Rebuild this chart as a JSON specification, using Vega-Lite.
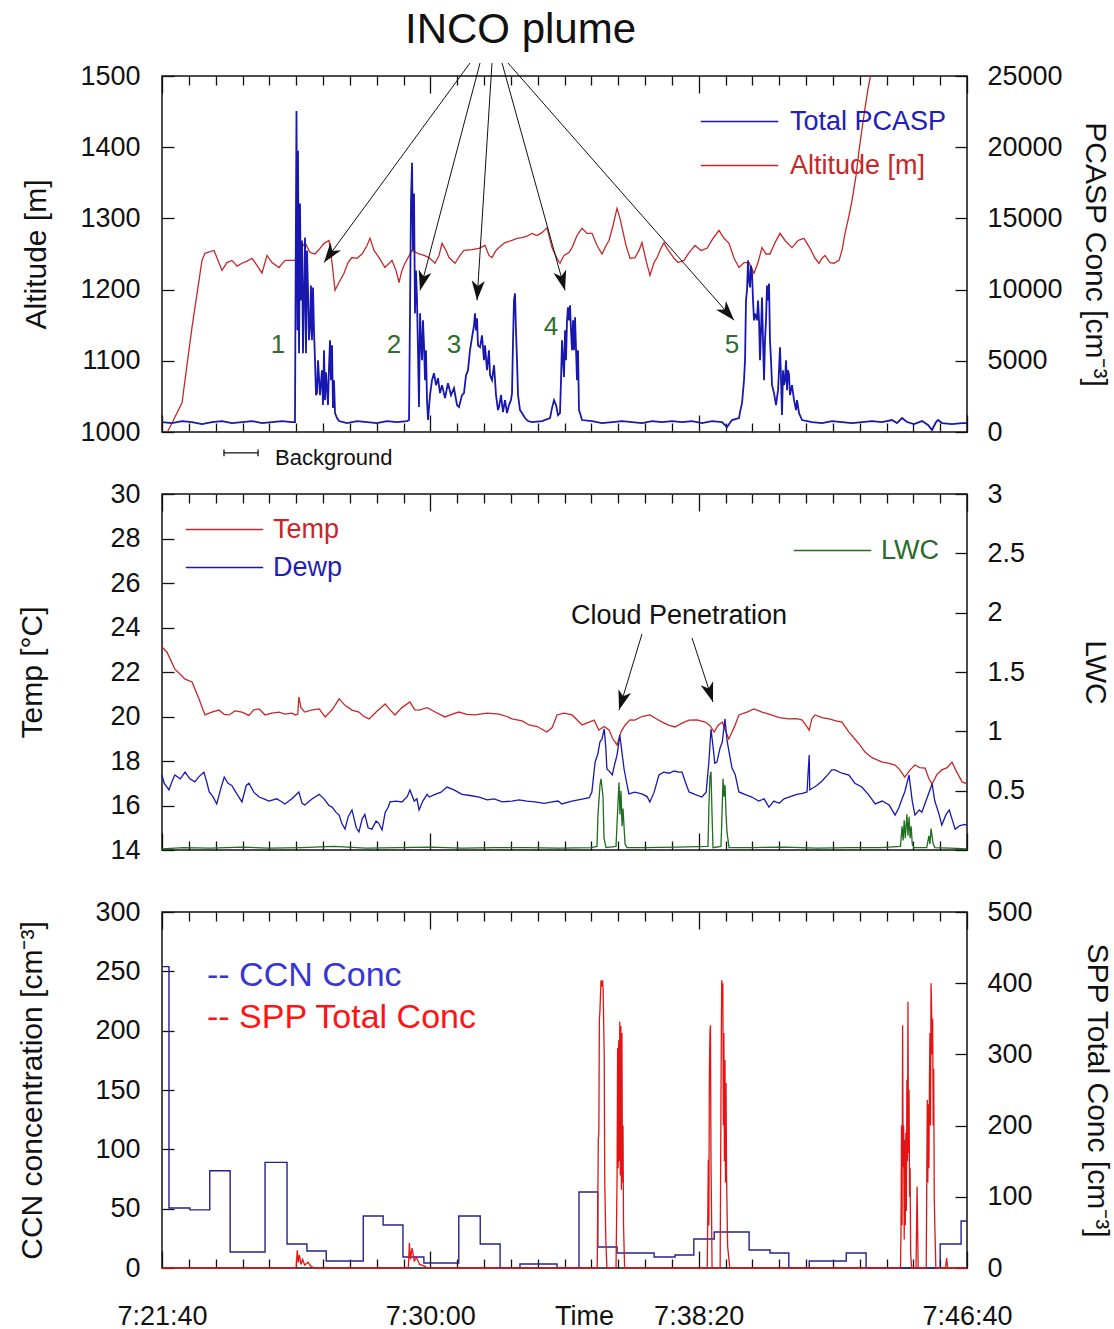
{
"$schema":"https://vega.github.io/schema/vega-lite/v6.json",
"background":"white",
"padding":{"left":16,"top":8,"right":5,"bottom":0},
"config":{
 "font":"Liberation Sans",
 "view":{"stroke":"#111","strokeWidth":1.5},
 "axis":{"labelFont":"Liberation Sans","labelFontSize":27,"labelColor":"#111","titleFont":"Liberation Sans","titleFontSize":30,"titleFontWeight":"normal","titleColor":"#111","domain":false,"grid":false,"tickColor":"#111","tickWidth":1.3},
 "legend":{"labelFont":"Liberation Sans","labelLimit":0},
 "title":{"font":"Liberation Sans","fontWeight":"normal","color":"#111"}
},
"datasets":{
 "pcasp":[{"t":0,"v":700},{"t":18.6,"v":630},{"t":37.3,"v":770},{"t":55.9,"v":700},{"t":74.5,"v":560},{"t":93.2,"v":700},{"t":111.8,"v":770},{"t":130.4,"v":630},{"t":149.1,"v":700},{"t":167.7,"v":770},{"t":186.3,"v":630},{"t":205,"v":700},{"t":223.6,"v":770},{"t":242.2,"v":700},{"t":247.8,"v":700},{"t":248.8,"v":9240},{"t":250.6,"v":22550},{"t":252.5,"v":7140},{"t":253.4,"v":19750},{"t":255.3,"v":5530},{"t":257.1,"v":16040},{"t":259,"v":9240},{"t":260.9,"v":13450},{"t":262.7,"v":5530},{"t":266.5,"v":13650},{"t":268.3,"v":5530},{"t":270.2,"v":12750},{"t":272.1,"v":9940},{"t":273.9,"v":6440},{"t":275.8,"v":7350},{"t":277.6,"v":10290},{"t":279.5,"v":6440},{"t":281.4,"v":10150},{"t":283.2,"v":7140},{"t":285.1,"v":5040},{"t":287,"v":2590},{"t":288.8,"v":2730},{"t":290.7,"v":5040},{"t":294.4,"v":2590},{"t":298.1,"v":4340},{"t":300,"v":1890},{"t":301.9,"v":5740},{"t":303.7,"v":2240},{"t":305.6,"v":4200},{"t":309.3,"v":1890},{"t":311.2,"v":4550},{"t":313.1,"v":6440},{"t":314.9,"v":3640},{"t":316.8,"v":6090},{"t":318.6,"v":1680},{"t":320.5,"v":3640},{"t":322.4,"v":1330},{"t":326.1,"v":980},{"t":329.8,"v":770},{"t":344.7,"v":630},{"t":363.4,"v":770},{"t":382,"v":700},{"t":400.6,"v":630},{"t":419.3,"v":770},{"t":437.9,"v":700},{"t":456.5,"v":770},{"t":460.3,"v":840},{"t":462.1,"v":8330},{"t":464,"v":16250},{"t":465.9,"v":18910},{"t":467.7,"v":12750},{"t":469.6,"v":16740},{"t":471.4,"v":8330},{"t":473.3,"v":11340},{"t":475.2,"v":9240},{"t":477,"v":5740},{"t":478.9,"v":1750},{"t":480.8,"v":8330},{"t":482.6,"v":6440},{"t":484.5,"v":5040},{"t":486.3,"v":7840},{"t":488.2,"v":6090},{"t":490.1,"v":3640},{"t":491.9,"v":5740},{"t":493.8,"v":2240},{"t":495.7,"v":840},{"t":499.4,"v":2590},{"t":503.1,"v":3640},{"t":506.8,"v":4130},{"t":510.6,"v":3290},{"t":514.3,"v":3780},{"t":518,"v":2730},{"t":521.8,"v":3290},{"t":527.3,"v":2380},{"t":532.9,"v":3430},{"t":538.5,"v":2590},{"t":544.1,"v":3080},{"t":549.7,"v":1890},{"t":553.4,"v":1750},{"t":559,"v":2590},{"t":562.7,"v":2730},{"t":566.5,"v":3990},{"t":570.2,"v":4340},{"t":573.9,"v":5740},{"t":577.7,"v":6650},{"t":581.4,"v":7490},{"t":583.2,"v":8330},{"t":585.1,"v":7140},{"t":587,"v":7980},{"t":588.8,"v":6090},{"t":592.6,"v":5950},{"t":596.3,"v":6790},{"t":600,"v":5040},{"t":601.9,"v":6090},{"t":605.6,"v":4340},{"t":609.3,"v":5740},{"t":611.2,"v":3990},{"t":614.9,"v":3640},{"t":618.7,"v":4690},{"t":622.4,"v":2590},{"t":626.1,"v":1540},{"t":628,"v":1750},{"t":631.7,"v":2590},{"t":635.4,"v":1400},{"t":639.1,"v":2240},{"t":642.9,"v":1330},{"t":646.6,"v":1890},{"t":650.3,"v":2240},{"t":652.2,"v":2730},{"t":654.1,"v":6440},{"t":655.9,"v":9240},{"t":657.8,"v":9730},{"t":659.6,"v":7140},{"t":661.5,"v":5040},{"t":663.4,"v":2590},{"t":667.1,"v":1540},{"t":670.8,"v":1330},{"t":676.4,"v":980},{"t":682,"v":770},{"t":689.5,"v":700},{"t":708.1,"v":770},{"t":723,"v":980},{"t":726.7,"v":1680},{"t":730.5,"v":2240},{"t":734.2,"v":1890},{"t":737.9,"v":1190},{"t":741.6,"v":1330},{"t":743.5,"v":3640},{"t":745.4,"v":6440},{"t":747.2,"v":5040},{"t":749.1,"v":3850},{"t":751,"v":7140},{"t":752.8,"v":5040},{"t":754.7,"v":7840},{"t":756.5,"v":8750},{"t":758.4,"v":7840},{"t":760.3,"v":8890},{"t":762.1,"v":7140},{"t":764,"v":5740},{"t":765.9,"v":7840},{"t":767.7,"v":5740},{"t":769.6,"v":8050},{"t":773.3,"v":3640},{"t":775.2,"v":5740},{"t":777,"v":1540},{"t":778.9,"v":1330},{"t":782.6,"v":840},{"t":801.3,"v":770},{"t":819.9,"v":630},{"t":838.5,"v":700},{"t":857.2,"v":770},{"t":875.8,"v":700},{"t":894.4,"v":630},{"t":913.1,"v":770},{"t":931.7,"v":700},{"t":950.3,"v":770},{"t":969,"v":700},{"t":987.6,"v":770},{"t":1006.2,"v":630},{"t":1024.9,"v":770},{"t":1043.5,"v":700},{"t":1052.8,"v":350},{"t":1062.1,"v":840},{"t":1075.2,"v":980},{"t":1077,"v":1400},{"t":1080.8,"v":2030},{"t":1084.5,"v":3640},{"t":1086.4,"v":5040},{"t":1088.2,"v":9240},{"t":1090.1,"v":9940},{"t":1092,"v":12050},{"t":1093.8,"v":10640},{"t":1095.7,"v":10150},{"t":1097.5,"v":11690},{"t":1099.4,"v":11130},{"t":1101.3,"v":9240},{"t":1103.1,"v":7840},{"t":1105,"v":8330},{"t":1108.7,"v":7840},{"t":1110.6,"v":9240},{"t":1112.5,"v":7840},{"t":1114.3,"v":5040},{"t":1116.2,"v":7140},{"t":1118,"v":9450},{"t":1119.9,"v":6440},{"t":1121.8,"v":3640},{"t":1123.6,"v":6440},{"t":1125.5,"v":7840},{"t":1127.4,"v":10290},{"t":1129.2,"v":9240},{"t":1131.1,"v":10430},{"t":1132.9,"v":6440},{"t":1134.8,"v":5040},{"t":1136.7,"v":3290},{"t":1140.4,"v":2730},{"t":1144.1,"v":1890},{"t":1147.9,"v":2940},{"t":1149.7,"v":4340},{"t":1151.6,"v":5950},{"t":1153.5,"v":3640},{"t":1155.3,"v":1190},{"t":1157.2,"v":4340},{"t":1159,"v":3290},{"t":1160.9,"v":3640},{"t":1162.8,"v":5040},{"t":1164.6,"v":2940},{"t":1166.5,"v":4340},{"t":1168.4,"v":3990},{"t":1170.2,"v":2590},{"t":1173.9,"v":3290},{"t":1177.7,"v":2240},{"t":1181.4,"v":1540},{"t":1183.3,"v":2240},{"t":1187,"v":1330},{"t":1192.6,"v":840},{"t":1211.2,"v":700},{"t":1229.8,"v":630},{"t":1248.5,"v":770},{"t":1267.1,"v":700},{"t":1285.7,"v":630},{"t":1304.4,"v":700},{"t":1323,"v":770},{"t":1341.6,"v":700},{"t":1360.3,"v":840},{"t":1369.6,"v":630},{"t":1378.9,"v":980},{"t":1388.2,"v":700},{"t":1401.3,"v":560},{"t":1416.2,"v":770},{"t":1427.4,"v":490},{"t":1434.8,"v":140},{"t":1442.3,"v":700},{"t":1446,"v":840},{"t":1453.5,"v":630},{"t":1472.1,"v":560},{"t":1490.7,"v":630},{"t":1500,"v":630}],
 "alt":[{"t":10,"v":1000},{"t":14.9,"v":1007},{"t":37.3,"v":1041},{"t":55.9,"v":1147},{"t":74.5,"v":1241},{"t":80.1,"v":1251},{"t":96.9,"v":1255},{"t":111.8,"v":1227},{"t":121.1,"v":1238},{"t":130.4,"v":1241},{"t":139.8,"v":1233},{"t":149.1,"v":1237},{"t":158.4,"v":1240},{"t":167.7,"v":1244},{"t":177,"v":1234},{"t":186.3,"v":1223},{"t":195.7,"v":1248},{"t":205,"v":1238},{"t":218,"v":1231},{"t":229.2,"v":1241},{"t":247.8,"v":1241},{"t":257.1,"v":1255},{"t":266.5,"v":1266},{"t":275.8,"v":1252},{"t":285.1,"v":1250},{"t":294.4,"v":1258},{"t":301.9,"v":1265},{"t":311.2,"v":1269},{"t":316.8,"v":1238},{"t":322.4,"v":1199},{"t":329.8,"v":1210},{"t":339.1,"v":1223},{"t":346.6,"v":1238},{"t":354,"v":1245},{"t":363.4,"v":1244},{"t":372.7,"v":1250},{"t":382,"v":1262},{"t":387.6,"v":1272},{"t":395,"v":1255},{"t":404.4,"v":1245},{"t":415.5,"v":1231},{"t":428.6,"v":1241},{"t":436,"v":1227},{"t":441.6,"v":1210},{"t":447.2,"v":1227},{"t":452.8,"v":1237},{"t":465.9,"v":1255},{"t":478.9,"v":1250},{"t":488.2,"v":1248},{"t":497.5,"v":1245},{"t":508.7,"v":1237},{"t":516.2,"v":1248},{"t":521.8,"v":1265},{"t":529.2,"v":1255},{"t":534.8,"v":1245},{"t":546,"v":1237},{"t":555.3,"v":1248},{"t":562.7,"v":1255},{"t":577.7,"v":1256},{"t":590.7,"v":1258},{"t":601.9,"v":1262},{"t":609.3,"v":1248},{"t":614.9,"v":1245},{"t":622.4,"v":1255},{"t":628,"v":1259},{"t":639.1,"v":1266},{"t":652.2,"v":1269},{"t":661.5,"v":1272},{"t":670.8,"v":1273},{"t":680.1,"v":1275},{"t":689.5,"v":1279},{"t":698.8,"v":1276},{"t":708.1,"v":1280},{"t":717.4,"v":1287},{"t":726.7,"v":1259},{"t":736,"v":1244},{"t":741.6,"v":1237},{"t":749.1,"v":1248},{"t":758.4,"v":1252},{"t":764,"v":1259},{"t":773.3,"v":1276},{"t":782.6,"v":1286},{"t":792,"v":1279},{"t":801.3,"v":1279},{"t":810.6,"v":1262},{"t":819.9,"v":1250},{"t":827.4,"v":1262},{"t":833,"v":1269},{"t":840.4,"v":1290},{"t":847.8,"v":1314},{"t":853.4,"v":1300},{"t":857.2,"v":1287},{"t":864.6,"v":1262},{"t":872.1,"v":1244},{"t":881.4,"v":1245},{"t":888.8,"v":1255},{"t":894.4,"v":1266},{"t":901.9,"v":1241},{"t":909.3,"v":1220},{"t":916.8,"v":1238},{"t":922.4,"v":1245},{"t":929.8,"v":1258},{"t":935.4,"v":1266},{"t":941,"v":1258},{"t":946.6,"v":1252},{"t":954.1,"v":1244},{"t":961.5,"v":1238},{"t":972.7,"v":1241},{"t":982,"v":1252},{"t":993.2,"v":1262},{"t":1004.4,"v":1255},{"t":1015.6,"v":1258},{"t":1026.7,"v":1272},{"t":1037.9,"v":1283},{"t":1047.2,"v":1272},{"t":1056.6,"v":1265},{"t":1065.9,"v":1244},{"t":1075.2,"v":1231},{"t":1084.5,"v":1238},{"t":1093.8,"v":1238},{"t":1103.1,"v":1223},{"t":1110.6,"v":1238},{"t":1118,"v":1259},{"t":1125.5,"v":1250},{"t":1132.9,"v":1250},{"t":1142.3,"v":1266},{"t":1151.6,"v":1279},{"t":1160.9,"v":1269},{"t":1173.9,"v":1259},{"t":1185.1,"v":1269},{"t":1196.3,"v":1272},{"t":1207.5,"v":1258},{"t":1216.8,"v":1244},{"t":1224.3,"v":1237},{"t":1229.8,"v":1244},{"t":1235.4,"v":1248},{"t":1244.7,"v":1238},{"t":1252.2,"v":1237},{"t":1261.5,"v":1241},{"t":1267.1,"v":1255},{"t":1272.7,"v":1279},{"t":1280.2,"v":1304},{"t":1285.7,"v":1325},{"t":1293.2,"v":1360},{"t":1298.8,"v":1395},{"t":1304.4,"v":1426},{"t":1310,"v":1455},{"t":1315.6,"v":1482},{"t":1321.1,"v":1504},{"t":1326.7,"v":1528}],
 "inco":[{"t":301.9,"v":1238.1,"t0":573.9,"v0":1518.2},{"t":480.8,"v":1198.9,"t0":592.6,"v0":1518.2},{"t":587,"v":1184.9,"t0":614.9,"v0":1518.2},{"t":751,"v":1198.9,"t0":633.6,"v0":1518.2},{"t":1065.9,"v":1156.9,"t0":644.7,"v0":1518.2}],
 "nums":[{"t":216.2,"v":1121.9,"label":"1"},{"t":432.3,"v":1121.9,"label":"2"},{"t":544.1,"v":1121.9,"label":"3"},{"t":724.9,"v":1147,"label":"4"},{"t":1062.1,"v":1121.9,"label":"5"}],
 "bgbar":[{"t":115.5,"v":970.6,"t0":179,"v0":970.6},{"t":115.5,"v":966,"t0":115.5,"v0":975.5},{"t":179,"v":966,"t0":179,"v0":975.5}],
 "temp":[{"t":0,"v":23.12},{"t":9,"v":22.9},{"t":24,"v":22.13},{"t":34,"v":21.9},{"t":43,"v":21.68},{"t":56,"v":21.55},{"t":69,"v":20.79},{"t":80,"v":20.07},{"t":93,"v":20.2},{"t":106,"v":20.29},{"t":116,"v":20.1},{"t":125,"v":20.07},{"t":136,"v":20.25},{"t":149,"v":20.2},{"t":162,"v":20.05},{"t":171,"v":20.3},{"t":181,"v":20.34},{"t":192,"v":20.07},{"t":205,"v":20.15},{"t":218,"v":20.2},{"t":229,"v":20.11},{"t":242,"v":20.15},{"t":248,"v":20.07},{"t":253,"v":20.1},{"t":255,"v":20.88},{"t":259,"v":20.4},{"t":266,"v":20.2},{"t":280,"v":20.3},{"t":293,"v":20.34},{"t":304,"v":19.98},{"t":317,"v":20.3},{"t":330,"v":20.79},{"t":341,"v":20.5},{"t":354,"v":20.29},{"t":367,"v":20.2},{"t":376,"v":20.0},{"t":386,"v":19.89},{"t":399,"v":20.2},{"t":416,"v":20.56},{"t":425,"v":20.3},{"t":434,"v":20.07},{"t":447,"v":20.4},{"t":462,"v":20.65},{"t":471,"v":20.3},{"t":479,"v":20.29},{"t":494,"v":20.4},{"t":509,"v":20.2},{"t":527,"v":19.98},{"t":540,"v":20.1},{"t":553,"v":20.2},{"t":568,"v":20.1},{"t":583,"v":20.07},{"t":606,"v":20.15},{"t":628,"v":20.11},{"t":643,"v":20.0},{"t":652,"v":19.89},{"t":671,"v":19.8},{"t":684,"v":19.62},{"t":699,"v":19.55},{"t":717,"v":19.3},{"t":727,"v":19.5},{"t":736,"v":20.07},{"t":749,"v":20.15},{"t":764,"v":20.07},{"t":783,"v":19.62},{"t":796,"v":19.75},{"t":805,"v":19.84},{"t":814,"v":19.39},{"t":824,"v":19.55},{"t":833,"v":19.4},{"t":840,"v":19.0},{"t":848,"v":18.72},{"t":855,"v":19.3},{"t":863,"v":19.62},{"t":872,"v":19.85},{"t":881,"v":19.84},{"t":894,"v":20.0},{"t":909,"v":20.07},{"t":921,"v":19.9},{"t":932,"v":19.75},{"t":945,"v":19.6},{"t":956,"v":19.53},{"t":969,"v":19.7},{"t":982,"v":19.84},{"t":997,"v":19.85},{"t":1012,"v":19.75},{"t":1021,"v":19.6},{"t":1029,"v":19.3},{"t":1036,"v":19.6},{"t":1044,"v":19.75},{"t":1051,"v":19.3},{"t":1056,"v":18.99},{"t":1066,"v":19.5},{"t":1075,"v":20.07},{"t":1090,"v":20.2},{"t":1103,"v":20.34},{"t":1118,"v":20.2},{"t":1131,"v":20.11},{"t":1150,"v":19.95},{"t":1168,"v":19.89},{"t":1183,"v":19.9},{"t":1193,"v":19.84},{"t":1200,"v":19.6},{"t":1206,"v":19.39},{"t":1211,"v":19.9},{"t":1217,"v":20.07},{"t":1230,"v":19.95},{"t":1243,"v":19.89},{"t":1256,"v":19.8},{"t":1267,"v":19.75},{"t":1280,"v":19.3},{"t":1291,"v":18.99},{"t":1301,"v":18.7},{"t":1310,"v":18.4},{"t":1323,"v":18.15},{"t":1342,"v":17.95},{"t":1353,"v":17.9},{"t":1366,"v":17.82},{"t":1375,"v":17.6},{"t":1384,"v":17.28},{"t":1394,"v":17.6},{"t":1403,"v":17.82},{"t":1412,"v":17.7},{"t":1422,"v":17.68},{"t":1429,"v":17.2},{"t":1435,"v":16.97},{"t":1444,"v":17.4},{"t":1453,"v":17.6},{"t":1463,"v":17.7},{"t":1472,"v":17.95},{"t":1481,"v":17.5},{"t":1491,"v":17.06},{"t":1500,"v":16.97}],
 "dewp":[{"t":0,"v":17.37},{"t":4,"v":17.0},{"t":13,"v":16.7},{"t":19,"v":17.1},{"t":24,"v":17.37},{"t":34,"v":17.2},{"t":43,"v":17.5},{"t":52,"v":17.2},{"t":61,"v":17.06},{"t":69,"v":17.3},{"t":78,"v":17.5},{"t":84,"v":17.0},{"t":88,"v":16.61},{"t":95,"v":16.4},{"t":102,"v":16.07},{"t":110,"v":16.8},{"t":116,"v":17.28},{"t":123,"v":17.0},{"t":130,"v":16.9},{"t":140,"v":16.5},{"t":149,"v":16.16},{"t":157,"v":16.9},{"t":162,"v":17.0},{"t":171,"v":16.6},{"t":181,"v":16.38},{"t":190,"v":16.3},{"t":199,"v":16.2},{"t":214,"v":16.3},{"t":229,"v":16.07},{"t":242,"v":16.3},{"t":255,"v":16.61},{"t":261,"v":16.1},{"t":266,"v":16.02},{"t":280,"v":16.3},{"t":293,"v":16.5},{"t":302,"v":16.3},{"t":311,"v":16.0},{"t":317,"v":15.93},{"t":324,"v":15.7},{"t":330,"v":15.57},{"t":335,"v":15.2},{"t":341,"v":14.94},{"t":347,"v":15.5},{"t":354,"v":15.8},{"t":362,"v":15.0},{"t":367,"v":14.81},{"t":373,"v":15.4},{"t":378,"v":15.6},{"t":384,"v":15.0},{"t":391,"v":14.94},{"t":399,"v":15.3},{"t":404,"v":15.2},{"t":410,"v":14.9},{"t":416,"v":15.7},{"t":421,"v":15.9},{"t":425,"v":16.16},{"t":436,"v":16.2},{"t":447,"v":16.16},{"t":457,"v":16.4},{"t":462,"v":16.7},{"t":470,"v":16.2},{"t":475,"v":16.3},{"t":479,"v":15.8},{"t":486,"v":16.2},{"t":494,"v":16.5},{"t":498,"v":16.38},{"t":509,"v":16.5},{"t":520,"v":16.6},{"t":531,"v":16.83},{"t":544,"v":16.7},{"t":559,"v":16.5},{"t":574,"v":16.45},{"t":591,"v":16.38},{"t":606,"v":16.25},{"t":619,"v":16.3},{"t":634,"v":16.16},{"t":652,"v":16.2},{"t":665,"v":16.25},{"t":680,"v":16.2},{"t":695,"v":16.16},{"t":712,"v":16.1},{"t":727,"v":16.16},{"t":738,"v":16.2},{"t":745,"v":16.07},{"t":764,"v":16.2},{"t":783,"v":16.29},{"t":796,"v":16.35},{"t":801,"v":16.6},{"t":807,"v":17.95},{"t":812,"v":18.3},{"t":816,"v":18.85},{"t":820,"v":19.0},{"t":824,"v":19.44},{"t":827,"v":18.6},{"t":829,"v":17.64},{"t":835,"v":17.5},{"t":839,"v":17.37},{"t":844,"v":17.9},{"t":848,"v":18.27},{"t":851,"v":18.8},{"t":853,"v":19.17},{"t":857,"v":18.4},{"t":861,"v":17.64},{"t":866,"v":17.0},{"t":870,"v":16.52},{"t":881,"v":16.6},{"t":894,"v":16.52},{"t":904,"v":16.4},{"t":909,"v":16.16},{"t":917,"v":16.6},{"t":926,"v":17.37},{"t":935,"v":17.5},{"t":945,"v":17.45},{"t":954,"v":17.55},{"t":963,"v":17.5},{"t":969,"v":17.5},{"t":976,"v":17.0},{"t":982,"v":16.61},{"t":993,"v":16.5},{"t":1006,"v":16.38},{"t":1014,"v":16.6},{"t":1019,"v":17.95},{"t":1023,"v":19.44},{"t":1027,"v":18.6},{"t":1030,"v":17.9},{"t":1034,"v":17.95},{"t":1040,"v":18.6},{"t":1044,"v":18.85},{"t":1049,"v":19.89},{"t":1053,"v":18.9},{"t":1056,"v":18.5},{"t":1062,"v":17.7},{"t":1068,"v":17.4},{"t":1075,"v":16.61},{"t":1086,"v":16.5},{"t":1099,"v":16.38},{"t":1112,"v":16.2},{"t":1122,"v":16.3},{"t":1131,"v":15.93},{"t":1140,"v":16.2},{"t":1150,"v":16.1},{"t":1159,"v":16.3},{"t":1168,"v":16.38},{"t":1183,"v":16.5},{"t":1193,"v":16.55},{"t":1202,"v":16.61},{"t":1204,"v":17.5},{"t":1206,"v":18.27},{"t":1207,"v":16.7},{"t":1220,"v":16.9},{"t":1230,"v":17.1},{"t":1241,"v":17.4},{"t":1248,"v":17.6},{"t":1254,"v":17.6},{"t":1267,"v":17.45},{"t":1280,"v":17.37},{"t":1291,"v":17.0},{"t":1304,"v":16.83},{"t":1316,"v":16.5},{"t":1329,"v":16.07},{"t":1342,"v":16.2},{"t":1355,"v":16.02},{"t":1366,"v":15.57},{"t":1373,"v":15.9},{"t":1379,"v":16.3},{"t":1384,"v":16.61},{"t":1392,"v":17.37},{"t":1398,"v":16.2},{"t":1403,"v":15.57},{"t":1411,"v":15.8},{"t":1416,"v":15.7},{"t":1425,"v":16.3},{"t":1435,"v":16.97},{"t":1440,"v":16.2},{"t":1448,"v":15.6},{"t":1453,"v":15.12},{"t":1461,"v":15.6},{"t":1467,"v":15.8},{"t":1472,"v":15.4},{"t":1478,"v":14.94},{"t":1487,"v":15.1},{"t":1496,"v":15.15},{"t":1500,"v":15.1}],
 "lwc":[{"t":0,"v":0.01},{"t":40,"v":0.02},{"t":90,"v":0.015},{"t":150,"v":0.025},{"t":200,"v":0.015},{"t":260,"v":0.02},{"t":320,"v":0.03},{"t":380,"v":0.015},{"t":440,"v":0.02},{"t":500,"v":0.025},{"t":560,"v":0.015},{"t":620,"v":0.02},{"t":680,"v":0.02},{"t":740,"v":0.015},{"t":800,"v":0.02},{"t":810.6,"v":0.03},{"t":812.4,"v":0.3},{"t":816.2,"v":0.55},{"t":818,"v":0.6},{"t":821.8,"v":0.45},{"t":823.6,"v":0.1},{"t":827.4,"v":0.02},{"t":846,"v":0.03},{"t":849.7,"v":0.4},{"t":851.6,"v":0.57},{"t":853.4,"v":0.3},{"t":855.3,"v":0.5},{"t":857.2,"v":0.2},{"t":859,"v":0.35},{"t":862.8,"v":0.05},{"t":866.5,"v":0.02},{"t":900,"v":0.02},{"t":960,"v":0.025},{"t":1017.4,"v":0.03},{"t":1019.3,"v":0.4},{"t":1021.1,"v":0.62},{"t":1023,"v":0.66},{"t":1024.9,"v":0.3},{"t":1026.7,"v":0.02},{"t":1041.6,"v":0.03},{"t":1043.5,"v":0.3},{"t":1045.4,"v":0.6},{"t":1047.2,"v":0.45},{"t":1049.1,"v":0.55},{"t":1051,"v":0.3},{"t":1052.8,"v":0.15},{"t":1056.6,"v":0.02},{"t":1100,"v":0.02},{"t":1160,"v":0.025},{"t":1220,"v":0.015},{"t":1280,"v":0.02},{"t":1340,"v":0.02},{"t":1376,"v":0.03},{"t":1379,"v":0.2},{"t":1381,"v":0.08},{"t":1383,"v":0.25},{"t":1385,"v":0.1},{"t":1388,"v":0.3},{"t":1390,"v":0.12},{"t":1392,"v":0.28},{"t":1394,"v":0.1},{"t":1396,"v":0.2},{"t":1398,"v":0.05},{"t":1401,"v":0.02},{"t":1425,"v":0.02},{"t":1429,"v":0.12},{"t":1431,"v":0.05},{"t":1433,"v":0.18},{"t":1437,"v":0.05},{"t":1440,"v":0.02},{"t":1470,"v":0.015},{"t":1500,"v":0.01}],
 "cloud":[{"t":851.6,"v":20.29,"t0":894.4,"v0":23.71},{"t":1026.7,"v":20.65,"t0":987.6,"v0":23.53}],
 "ccn":[{"t":0,"v":254},{"t":13,"v":50.6},{"t":52,"v":49},{"t":89,"v":82},{"t":127,"v":13.5},{"t":192,"v":89},{"t":233,"v":20.2},{"t":270,"v":14.3},{"t":306,"v":5.9},{"t":375,"v":43.8},{"t":412,"v":36.2},{"t":449,"v":9.3},{"t":488,"v":4.2},{"t":553,"v":43.8},{"t":593,"v":20.2},{"t":630,"v":0},{"t":667,"v":3.4},{"t":736,"v":0},{"t":777,"v":64},{"t":812,"v":17.7},{"t":848,"v":12.6},{"t":917,"v":9.3},{"t":956,"v":11},{"t":991,"v":24.4},{"t":1029,"v":30.3},{"t":1094,"v":15.2},{"t":1133,"v":12.6},{"t":1168,"v":0},{"t":1206,"v":5.9},{"t":1275,"v":12.6},{"t":1312,"v":0},{"t":1450,"v":20.2},{"t":1489,"v":39.6},{"t":1500,"v":39.6}],
 "spp":[{"t":0,"v":0},{"t":250,"v":0},{"t":252,"v":25},{"t":254,"v":8},{"t":256,"v":18},{"t":259,"v":5},{"t":262,"v":12},{"t":266,"v":4},{"t":272,"v":8},{"t":278,"v":2},{"t":286,"v":0},{"t":459,"v":0},{"t":461,"v":35},{"t":463,"v":12},{"t":466,"v":28},{"t":470,"v":10},{"t":474,"v":15},{"t":480,"v":5},{"t":488,"v":3},{"t":496,"v":0},{"t":811,"v":0},{"t":813,"v":180},{"t":814,"v":190},{"t":815,"v":350},{"t":816,"v":360},{"t":818,"v":404},{"t":819,"v":395},{"t":821,"v":404},{"t":822,"v":390},{"t":824,"v":300},{"t":825,"v":120},{"t":827,"v":40},{"t":829,"v":0},{"t":846,"v":0},{"t":848,"v":130},{"t":849,"v":309},{"t":850,"v":140},{"t":851,"v":320},{"t":852,"v":150},{"t":853,"v":346},{"t":854,"v":130},{"t":855,"v":340},{"t":856,"v":110},{"t":857,"v":330},{"t":858,"v":120},{"t":859,"v":200},{"t":860,"v":60},{"t":862,"v":0},{"t":1016,"v":0},{"t":1018,"v":152},{"t":1019,"v":60},{"t":1020,"v":275},{"t":1021,"v":330},{"t":1022,"v":341},{"t":1023,"v":150},{"t":1025,"v":0},{"t":1040,"v":0},{"t":1042,"v":300},{"t":1043,"v":404},{"t":1044,"v":380},{"t":1045,"v":400},{"t":1046,"v":200},{"t":1047,"v":330},{"t":1048,"v":150},{"t":1049,"v":292},{"t":1050,"v":120},{"t":1051,"v":260},{"t":1052,"v":128},{"t":1054,"v":30},{"t":1058,"v":0},{"t":1376,"v":0},{"t":1377,"v":50},{"t":1378,"v":200},{"t":1379,"v":60},{"t":1380,"v":341},{"t":1381,"v":142},{"t":1382,"v":200},{"t":1383,"v":40},{"t":1384,"v":180},{"t":1385,"v":60},{"t":1386,"v":190},{"t":1387,"v":80},{"t":1388,"v":264},{"t":1389,"v":150},{"t":1390,"v":374},{"t":1391,"v":161},{"t":1392,"v":250},{"t":1393,"v":100},{"t":1394,"v":140},{"t":1395,"v":20},{"t":1397,"v":0},{"t":1405,"v":0},{"t":1407,"v":114},{"t":1409,"v":0},{"t":1424,"v":0},{"t":1426,"v":236},{"t":1427,"v":120},{"t":1428,"v":230},{"t":1429,"v":140},{"t":1430,"v":260},{"t":1431,"v":330},{"t":1432,"v":200},{"t":1433,"v":400},{"t":1434,"v":367},{"t":1435,"v":300},{"t":1436,"v":350},{"t":1437,"v":200},{"t":1438,"v":280},{"t":1439,"v":100},{"t":1440,"v":60},{"t":1442,"v":0},{"t":1460,"v":0},{"t":1462,"v":14},{"t":1464,"v":0},{"t":1500,"v":0}]
},
"vconcat":[
 {
  "width":805,"height":356,
  "title":{"text":"INCO plume","fontSize":42,"dx":-44,"offset":10},
  "layer":[
   {
    "encoding":{
     "x":{"field":"t","type":"quantitative","scale":{"domain":[0,1500],"nice":false,"zero":false},"axis":{"orient":"bottom","values":[0,50,100,150,200,250,300,350,400,450,500,550,600,650,700,750,800,850,900,950,1000,1050,1100,1150,1200,1250,1300,1350,1400,1450,1500],"labels":false,"title":null,"tickSize":{"condition":{"test":"datum.value % 500 === 0","value":-17},"value":-9}}},
     "y":{"field":"v","type":"quantitative","scale":{"domain":[1000,1500],"nice":false,"zero":false},"axis":{"orient":"left","values":[1000,1100,1200,1300,1400,1500],"format":"d","tickSize":-12,"labelPadding":34,"title":"Altitude [m]","titleX":-111}}
    },
    "layer":[
     {"data":{"name":"alt"},"mark":{"type":"line","clip":true,"strokeWidth":1.3},
      "encoding":{"color":{"datum":"Altitude [m]","scale":{"domain":["Total PCASP","Altitude [m]"],"range":["#1818b0","#c42828"]},
       "legend":{"orient":"none","legendX":564,"legendY":32,"title":null,"symbolType":"M-5,0H5","symbolSize":240,"symbolStrokeWidth":1.5,"labelFontSize":27,"labelOffset":37,"rowPadding":16,
        "encode":{"labels":{"update":{"fill":{"signal":"datum.value === 'Total PCASP' ? '#2020b8' : '#c42828'"}}}}}}}},
     {"data":{"name":"inco"},"mark":{"type":"rule","color":"#111","strokeWidth":1},"encoding":{"x2":{"field":"t0"},"y2":{"field":"v0"}}},
     {"data":{"name":"inco"},"transform":[{"calculate":"(atan2((datum.t - datum.t0) / 1.8634, (datum.v - datum.v0) / 1.4006) * 180 / PI + 360) % 360","as":"ang"}],
      "mark":{"type":"point","shape":"M0,0L0.6,1.8L0,1.3L-0.6,1.8Z","filled":true,"color":"#111","size":484,"opacity":1,"strokeWidth":0},
      "encoding":{"angle":{"field":"ang","type":"quantitative","scale":null}}},
     {"data":{"name":"nums"},"mark":{"type":"text","fontSize":26,"color":"#2e6e2e"},"encoding":{"text":{"field":"label"}}},
     {"data":{"name":"bgbar"},"mark":{"type":"rule","color":"#111","strokeWidth":1.3},"encoding":{"x2":{"field":"t0"},"y2":{"field":"v0"}}},
     {"data":{"values":[{"t":210.6,"v":963.6,"label":"Background"}]},"mark":{"type":"text","align":"left","fontSize":22,"color":"#111"},"encoding":{"text":{"field":"label"}}}
    ]
   },
   {
    "data":{"name":"pcasp"},
    "mark":{"type":"line","strokeWidth":1.8},
    "encoding":{
     "x":{"field":"t","type":"quantitative","scale":{"domain":[0,1500],"nice":false,"zero":false},"axis":{"orient":"top","values":[0,50,100,150,200,250,300,350,400,450,500,550,600,650,700,750,800,850,900,950,1000,1050,1100,1150,1200,1250,1300,1350,1400,1450,1500],"labels":false,"title":null,"tickSize":{"condition":{"test":"datum.value % 500 === 0","value":-17},"value":-9}}},
     "y":{"field":"v","type":"quantitative","scale":{"domain":[0,25000],"nice":false},"axis":{"orient":"right","values":[0,5000,10000,15000,20000,25000],"format":"d","tickSize":-12,"labelPadding":32,"title":"PCASP Conc [cm⁻³]","titleX":112}},
     "color":{"datum":"Total PCASP","scale":{"domain":["Total PCASP","Altitude [m]"],"range":["#1818b0","#c42828"]}}
    }
   }
  ],
  "resolve":{"scale":{"y":"independent"},"axis":{"x":"independent"}}
 },
 {
  "width":805,"height":356,
  "layer":[
   {
    "encoding":{
     "x":{"field":"t","type":"quantitative","scale":{"domain":[0,1500],"nice":false,"zero":false},"axis":{"orient":"bottom","values":[0,50,100,150,200,250,300,350,400,450,500,550,600,650,700,750,800,850,900,950,1000,1050,1100,1150,1200,1250,1300,1350,1400,1450,1500],"labels":false,"title":null,"tickSize":{"condition":{"test":"datum.value % 500 === 0","value":-17},"value":-9}}},
     "y":{"field":"v","type":"quantitative","scale":{"domain":[14,30],"nice":false,"zero":false},"axis":{"orient":"left","values":[14,16,18,20,22,24,26,28,30],"format":"d","tickSize":-12,"labelPadding":34,"title":"Temp [°C]","titleX":-115}}
    },
    "layer":[
     {"data":{"name":"temp"},"mark":{"type":"line","strokeWidth":1.3},
      "encoding":{"color":{"datum":"Temp","scale":{"domain":["Temp","Dewp"],"range":["#c42828","#1818b0"]},
       "legend":{"orient":"none","legendX":49,"legendY":22,"title":null,"symbolType":"M-5,0H5","symbolSize":240,"symbolStrokeWidth":1.5,"labelFontSize":27,"labelOffset":35,"rowPadding":10,
        "encode":{"labels":{"update":{"fill":{"signal":"datum.value === 'Temp' ? '#c42828' : '#1f1fb4'"}}}}}}}},
     {"data":{"name":"dewp"},"mark":{"type":"line","strokeWidth":1.3},
      "encoding":{"color":{"datum":"Dewp","scale":{"domain":["Temp","Dewp"],"range":["#c42828","#1818b0"]}}}},
     {"data":{"name":"cloud"},"mark":{"type":"rule","color":"#111","strokeWidth":1},"encoding":{"x2":{"field":"t0"},"y2":{"field":"v0"}}},
     {"data":{"name":"cloud"},"transform":[{"calculate":"(atan2((datum.t - datum.t0) / 1.8634, (datum.v - datum.v0) / 0.044944) * 180 / PI + 360) % 360","as":"ang"}],
      "mark":{"type":"point","shape":"M0,0L0.6,1.8L0,1.3L-0.6,1.8Z","filled":true,"color":"#111","size":484,"opacity":1,"strokeWidth":0},
      "encoding":{"angle":{"field":"ang","type":"quantitative","scale":null}}},
     {"data":{"values":[{"t":963.4,"v":24.52,"label":"Cloud Penetration"}]},"mark":{"type":"text","fontSize":27,"color":"#111"},"encoding":{"text":{"field":"label"}}}
    ]
   },
   {
    "data":{"name":"lwc"},
    "mark":{"type":"line","strokeWidth":1.3},
    "encoding":{
     "x":{"field":"t","type":"quantitative","scale":{"domain":[0,1500],"nice":false,"zero":false},"axis":{"orient":"top","values":[0,50,100,150,200,250,300,350,400,450,500,550,600,650,700,750,800,850,900,950,1000,1050,1100,1150,1200,1250,1300,1350,1400,1450,1500],"labels":false,"title":null,"tickSize":{"condition":{"test":"datum.value % 500 === 0","value":-17},"value":-9}}},
     "y":{"field":"v","type":"quantitative","scale":{"domain":[0,3],"nice":false},"axis":{"orient":"right","values":[0,0.5,1,1.5,2,2.5,3],"format":"~g","tickSize":-12,"labelPadding":32,"title":"LWC","titleX":112}},
     "color":{"datum":"LWC","scale":{"domain":["LWC"],"range":["#1e6e1e"]},
      "legend":{"orient":"none","legendX":657,"legendY":43,"title":null,"symbolType":"M-5,0H5","symbolSize":240,"symbolStrokeWidth":1.5,"labelFontSize":27,"labelOffset":35,"labelColor":"#2a6a2a"}}
    }
   }
  ],
  "resolve":{"scale":{"y":"independent","color":"independent"},"axis":{"x":"independent"}}
 },
 {
  "width":805,"height":356,
  "layer":[
   {
    "data":{"name":"ccn"},
    "mark":{"type":"line","strokeWidth":1.4,"interpolate":"step-after"},
    "encoding":{
     "x":{"field":"t","type":"quantitative","scale":{"domain":[0,1500],"nice":false,"zero":false},"axis":{"orient":"bottom","values":[0,50,100,150,200,250,300,350,400,450,500,550,600,650,700,750,800,850,900,950,1000,1050,1100,1150,1200,1250,1300,1350,1400,1450,1500],"tickSize":{"condition":{"test":"datum.value % 500 === 0","value":-17},"value":-9},"labelPadding":52,"labelFlush":false,"labelOverlap":false,
       "labelExpr":"datum.value % 500 === 0 ? floor((datum.value + 26500) / 3600) + ':' + slice('0' + floor(((datum.value + 26500) % 3600) / 60), -2) + ':' + slice('0' + ((datum.value + 26500) % 60), -2) : ''",
       "title":"Time","titleX":422,"titleY":35,"titleFontSize":27,"titleBaseline":"top"}},
     "y":{"field":"v","type":"quantitative","scale":{"domain":[0,300],"nice":false},"axis":{"orient":"left","values":[0,50,100,150,200,250,300],"format":"d","tickSize":-12,"labelPadding":34,"title":"CCN concentration [cm⁻³]","titleX":-115}},
     "color":{"datum":"CCN Conc","scale":{"domain":["CCN Conc","SPP Total Conc"],"range":["#23238f","#e41414"]},
      "legend":{"orient":"none","legendX":11,"legendY":47,"title":null,"symbolSize":4,"symbolOpacity":0,"symbolStrokeWidth":0,"labelFontSize":34,"labelOffset":0,"rowPadding":8,"labelExpr":"'-- ' + datum.label",
       "encode":{"labels":{"update":{"fill":{"signal":"datum.value === 'CCN Conc' ? '#3636d2' : '#ff1414'"}}}}}}
    }
   },
   {
    "data":{"name":"spp"},
    "mark":{"type":"line","strokeWidth":1.3},
    "encoding":{
     "x":{"field":"t","type":"quantitative","scale":{"domain":[0,1500],"nice":false,"zero":false},"axis":{"orient":"top","values":[0,50,100,150,200,250,300,350,400,450,500,550,600,650,700,750,800,850,900,950,1000,1050,1100,1150,1200,1250,1300,1350,1400,1450,1500],"labels":false,"title":null,"tickSize":{"condition":{"test":"datum.value % 500 === 0","value":-17},"value":-9}}},
     "y":{"field":"v","type":"quantitative","scale":{"domain":[0,500],"nice":false},"axis":{"orient":"right","values":[0,100,200,300,400,500],"format":"d","tickSize":-12,"labelPadding":32,"title":"SPP Total Conc [cm⁻³]","titleX":114}},
     "color":{"datum":"SPP Total Conc","scale":{"domain":["CCN Conc","SPP Total Conc"],"range":["#23238f","#e41414"]}}
    }
   }
  ],
  "resolve":{"scale":{"y":"independent"},"axis":{"x":"independent"}}
 }
],
"spacing":62,
"bounds":"flush",
"resolve":{"scale":{"color":"independent"}}
}
